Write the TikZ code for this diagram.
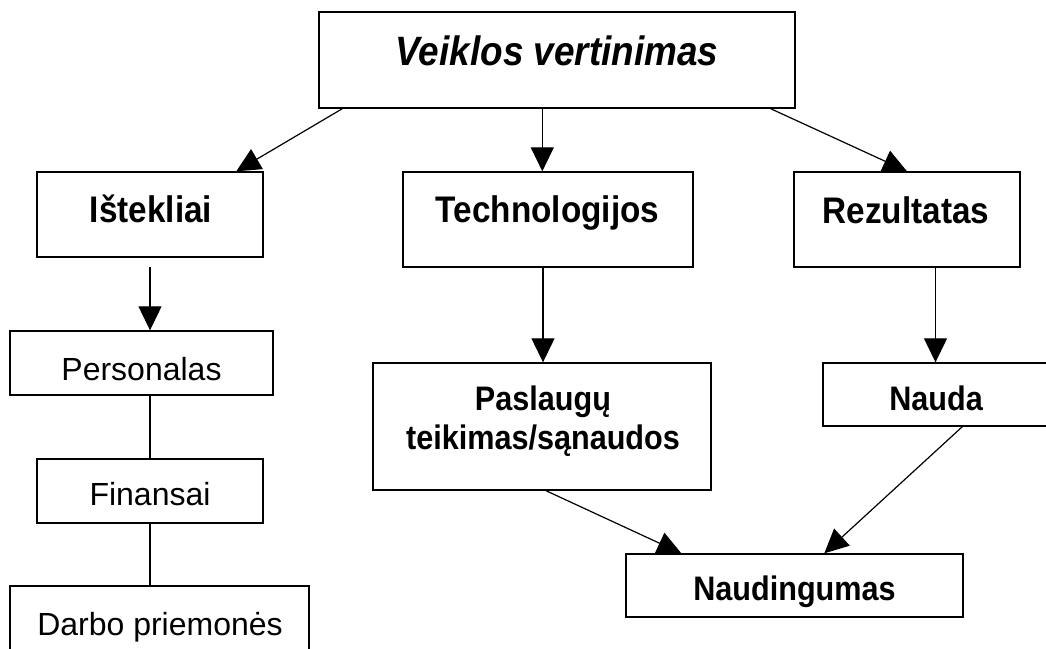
\documentclass[tikz,border=0pt]{standalone}
\usepackage{fontspec}
\setmainfont{Liberation Sans}
\newfontfamily\nbfam[FakeStretch=0.9]{Liberation Sans}
\usetikzlibrary{arrows.meta}
\tikzset{
  box/.style={draw=black, line width=1.4pt, rectangle, inner sep=0pt},
  conn/.style={line width=1.2pt, -{Triangle[length=24pt,width=23pt]}},
  plain/.style={line width=1.2pt},
  bigt/.style={anchor=base, inner sep=0pt, font=\nbfam\bfseries\itshape\fontsize{41}{45}\selectfont},
  headt/.style={anchor=base, inner sep=0pt, font=\nbfam\bfseries\fontsize{37}{41}\selectfont},
  subt/.style={anchor=base, inner sep=0pt, font=\nbfam\bfseries\fontsize{34}{39}\selectfont},
  regt/.style={anchor=base, inner sep=0pt, font=\fontsize{32}{36}\selectfont},
}
\begin{document}
\begin{tikzpicture}[x=1pt,y=-1pt]
\fill[white] (0,0) rectangle (1046,648);
\clip (0,0) rectangle (1046,648);
% boxes
\node[box, minimum width=476pt, minimum height=96pt] (top) at (557,60) {};
\node[box, minimum width=226pt, minimum height=85pt] (ist) at (150,214.5) {};
\node[box, minimum width=290pt, minimum height=95pt] (tech) at (548,219.5) {};
\node[box, minimum width=226pt, minimum height=95pt] (rez) at (907,219.5) {};
\node[box, minimum width=263pt, minimum height=64pt] (pers) at (141.5,363) {};
\node[box, minimum width=226pt, minimum height=64pt] (fin) at (150,491) {};
\node[box, minimum width=299pt, minimum height=80pt] (darbo) at (159.5,626) {};
\node[box, minimum width=338pt, minimum height=127pt] (pasl) at (542,426.5) {};
\node[box, minimum width=225pt, minimum height=63pt] (nauda) at (935.5,394.5) {};
\node[box, minimum width=337pt, minimum height=63pt] (naud) at (794.5,585.5) {};
% texts
\node[bigt] (ttop) at (557,65) {Veiklos vertinimas};
\node[headt] (tist) at (151,222) {Ištekliai};
\node[headt] (ttech) at (547.5,222) {Technologijos};
\node[headt] (trez) at (906,223) {Rezultatas};
\node[regt] (tpers) at (141.5,380) {Personalas};
\node[regt] (tfin) at (150,505) {Finansai};
\node[regt] (tdarbo) at (160,635) {Darbo priemonės};
\node[subt] (tpasl1) at (543,410) {Paslaugų};
\node[subt] (tpasl2) at (543,449) {teikimas/sąnaudos};
\node[subt] (tnauda) at (936,410) {Nauda};
\node[subt] (tnaud) at (794.5,600) {Naudingumas};
% connectors
\draw[conn] ([xshift=24pt]top.south west) -- ([xshift=200pt]ist.north west);
\draw[conn] ([xshift=224pt]top.south west) -- ([xshift=140pt]tech.north west);
\draw[conn] ([xshift=-25pt]top.south east) -- (rez.north);
\draw[conn] ([yshift=-9pt]ist.south) -- (ist.south |- pers.north);
\draw[plain] (fin.north |- pers.south) -- (fin.north);
\draw[plain] (fin.south) -- (fin.south |- darbo.north);
\draw[conn] ([xshift=-5pt]tech.south) -- ([xshift=1pt]pasl.north);
\draw[conn] (nauda.north |- rez.south) -- (nauda.north);
\draw[conn] ([xshift=4pt]pasl.south) -- ([xshift=56pt]naud.north west);
\draw[conn] ([xshift=140pt]nauda.south west) -- ([xshift=199pt]naud.north west);
\end{tikzpicture}
\end{document}
